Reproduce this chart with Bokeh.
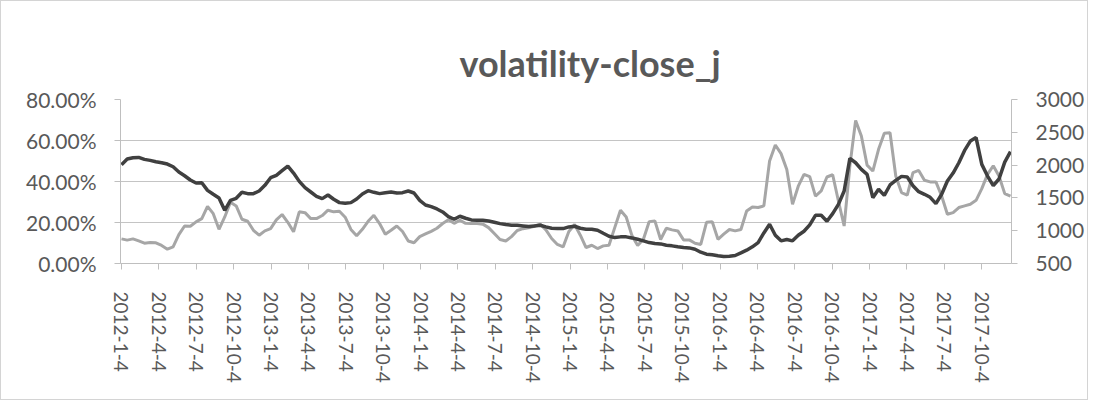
import pandas as pd
from bokeh.plotting import figure
from bokeh.models import Range1d, LinearAxis, FixedTicker, PrintfTickFormatter, ColumnDataSource
from bokeh.embed import file_html
from bokeh.resources import INLINE

# ---- data (bi-weekly samples) ----
start_date = "2012-01-04"

vol_pct = [
    12.0, 11.4, 12.0, 11.0, 9.9, 10.2, 10.1, 8.8, 7.0, 8.1,
    14.1, 18.3, 18.2, 20.3, 21.9, 27.9, 24.3, 16.7, 22.7, 29.9,
    28.1, 21.6, 20.6, 16.2, 13.8, 15.9, 17.0, 21.3, 23.9, 20.1,
    15.5, 25.2, 24.8, 21.9, 21.9, 23.4, 26.0, 25.2, 25.5, 22.6,
    16.6, 13.5, 16.7, 20.6, 23.5, 19.5, 14.3, 16.2, 18.3, 15.6,
    11.0, 10.1, 13.1, 14.4, 15.7, 17.2, 19.5, 21.3, 19.6, 21.1,
    19.6, 19.5, 19.5, 19.2, 17.5, 14.6, 11.7, 11.0, 13.1, 16.1,
    17.0, 17.4, 18.2, 19.2, 16.4, 12.2, 9.3, 8.1, 15.6, 19.0,
    13.8, 7.8, 8.9, 7.3, 8.6, 8.9, 17.5, 26.0, 22.7, 13.6,
    8.8, 11.8, 20.4, 20.8, 11.7, 17.2, 16.4, 15.9, 11.5, 11.5,
    9.9, 9.3, 20.1, 20.4, 11.8, 14.3, 16.6, 15.9, 16.6, 25.6,
    27.6, 27.3, 28.1, 50.0, 57.8, 53.6, 45.9, 28.9, 37.7, 43.5,
    42.4, 32.9, 35.4, 42.2, 43.3, 30.5, 18.3, 47.6, 69.8, 62.2,
    48.0, 45.1, 55.7, 63.5, 63.8, 42.7, 34.6, 33.4, 44.3, 45.4,
    40.6, 39.8, 39.8, 32.9, 24.0, 24.8, 27.3, 28.1, 28.9, 30.8,
    36.5, 43.5, 47.7, 42.7, 34.1, 32.9,
]

close_price = [
    2006, 2092, 2112, 2117, 2087, 2072, 2051, 2036, 2016, 1975,
    1894, 1838, 1773, 1727, 1732, 1615, 1555, 1499, 1311, 1463,
    1494, 1585, 1565, 1565, 1605, 1691, 1808, 1844, 1915, 1986,
    1879, 1752, 1656, 1590, 1524, 1489, 1544, 1479, 1428, 1418,
    1428, 1484, 1560, 1610, 1585, 1565, 1580, 1590, 1575, 1580,
    1605, 1575, 1463, 1392, 1367, 1331, 1286, 1215, 1174, 1220,
    1190, 1164, 1159, 1159, 1149, 1129, 1108, 1093, 1083, 1083,
    1073, 1063, 1073, 1083, 1058, 1037, 1032, 1032, 1058, 1068,
    1037, 1022, 1022, 1007, 961, 916, 895, 906, 906, 890,
    870, 845, 819, 804, 799, 779, 769, 754, 743, 738,
    718, 672, 642, 632, 617, 606, 612, 622, 662, 703,
    754, 819, 966, 1098, 931, 845, 865, 845, 931, 992,
    1088, 1235, 1235, 1144, 1261, 1402, 1605, 2102, 2036, 1935,
    1859, 1504, 1631, 1539, 1697, 1768, 1828, 1818, 1686, 1595,
    1555, 1509, 1413, 1555, 1757, 1879, 2036, 2224, 2366, 2420,
    2011, 1833, 1686, 1788, 2046, 2204,
]

tick_labels = [
    "2012-1-4", "2012-4-4", "2012-7-4", "2012-10-4",
    "2013-1-4", "2013-4-4", "2013-7-4", "2013-10-4",
    "2014-1-4", "2014-4-4", "2014-7-4", "2014-10-4",
    "2015-1-4", "2015-4-4", "2015-7-4", "2015-10-4",
    "2016-1-4", "2016-4-4", "2016-7-4", "2016-10-4",
    "2017-1-4", "2017-4-4", "2017-7-4", "2017-10-4",
]

left_ticks = [0, 20, 40, 60, 80]
right_ticks = [500, 1000, 1500, 2000, 2500, 3000]

title_text = "volatility-close_j"

# ---- build ----
dates = pd.date_range(start_date, periods=len(vol_pct), freq="14D")
source = ColumnDataSource(dict(date=dates, vol=vol_pct, close=close_price))

tick_ms = [int(pd.Timestamp(s).value // 10**6) for s in tick_labels]

FONT = "Lato"
TXT = "#595959"
AX = "#bfbfbf"

p = figure(
    x_axis_type="datetime",
    frame_width=891, frame_height=164,
    min_border_left=119, min_border_right=70,
    min_border_top=98, min_border_bottom=136,
    output_backend="svg", toolbar_location=None,
    x_range=Range1d(pd.Timestamp("2012-01-01 14:00"), pd.Timestamp("2017-12-15 12:00")),
    y_range=Range1d(0, 80),
    background_fill_color="white", border_fill_color="white",
)
p.outline_line_color = None
p.styles = {"border": "1px solid #d4d4d4"}

p.title.text = title_text
p.title.text_font = FONT
p.title.text_font_size = "36px"
p.title.text_font_style = "bold"
p.title.text_color = TXT
p.title.align = "left"
p.title.offset = 339
p.title.standoff = 30

p.extra_y_ranges = {"price": Range1d(500, 3000)}
raxis = LinearAxis(y_range_name="price")
p.add_layout(raxis, "right")

# x axis
xa = p.xaxis[0]
xa.ticker = FixedTicker(ticks=tick_ms)
xa.major_label_overrides = {t: s for t, s in zip(tick_ms, tick_labels)}
xa.major_label_orientation = "vertical"
xa.major_label_standoff = 22

# left axis
ya = p.yaxis[0]
ya.ticker = FixedTicker(ticks=left_ticks)
ya.formatter = PrintfTickFormatter(format="%.2f%%")
ya.major_label_standoff = 18

raxis.ticker = FixedTicker(ticks=right_ticks)
raxis.major_label_standoff = 18

for ax in (xa, ya, raxis):
    ax.axis_line_color = AX
    ax.major_tick_line_color = AX
    ax.minor_tick_line_color = None
    ax.major_tick_in = 0
    ax.major_tick_out = 6
    ax.major_label_text_font = FONT
    ax.major_label_text_font_size = "21px"
    ax.major_label_text_color = TXT

xa.major_label_text_font_size = "19px"

p.xgrid.visible = False
p.ygrid.grid_line_color = "#c4c4c4"
p.ygrid.ticker = FixedTicker(ticks=left_ticks)

p.line("date", "vol", source=source, line_color="#a6a6a6", line_width=3)
p.line("date", "close", source=source, y_range_name="price",
       line_color="#404040", line_width=3.5)

open("out.html", "w").write(file_html(p, INLINE))
